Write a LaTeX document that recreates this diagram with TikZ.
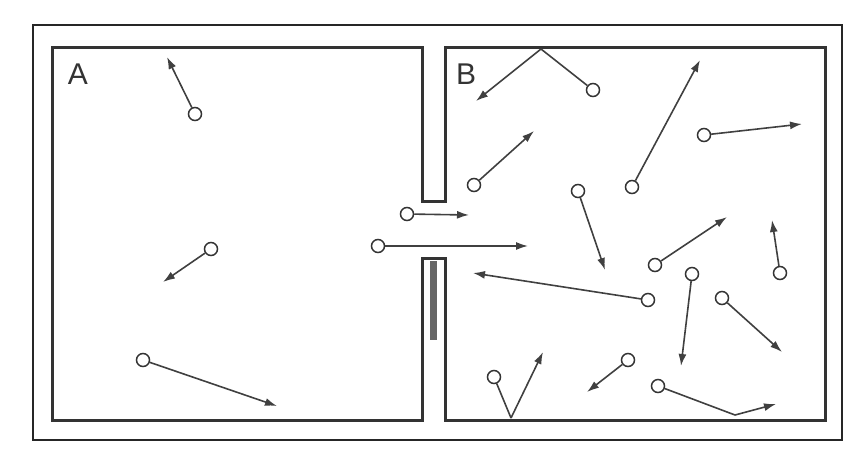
\documentclass[tikz,border=0pt]{standalone}
\usepackage{fontspec}
\setmainfont{Liberation Sans}
\usetikzlibrary{arrows.meta}
\begin{document}
\begin{tikzpicture}[x=1pt,y=-1pt,
  wall/.style={draw=black!80,line width=3pt,line join=miter},
  mol/.style={circle,draw=black!80,line width=1.5pt,fill=white,minimum size=13pt,inner sep=0pt},
  mv/.style={draw=black!75,line width=1.6pt,-{Latex[length=12pt,width=8pt]}},
  seg/.style={draw=black!75,line width=1.6pt},
  lab/.style={font=\fontsize{30}{30}\selectfont,text=black!80}]
\useasboundingbox (0,0) rectangle (859,475);
\draw[draw=black!85,line width=2.6pt] (33,25) rectangle (842,440);
\draw[wall] (52,47)--(422,47)--(422,201)--(445,201)--(445,47)--(825,47)--(825,420)--(445,420)--(445,258)--(422,258)--(422,420)--(52,420)--cycle;
\fill[black!60] (430,261) rectangle (437,340);
\node[lab] (la) at (78,74) {A};
\node[lab] (lb) at (466,74) {B};
% molecules
\foreach \n/\x/\y in {m1/195/114,m2/211/249,m3/143/360,m4/407/214,m5/378/246,
  m6/593/90,m7/474/185,m8/632/187,m9/704/135,m10/578/191,m11/655/265,m12/780/273,
  m13/648/300,m14/692/274,m15/722/298,m16/494/377,m17/628/360,m18/658/386}
  \node[mol] (\n) at (\x,\y) {};
\foreach \n/\x/\y in {t1/167/57,t2/163/282,t3/277/406,t4/469/215,t5/528/246,
  t6/476/101,t7/534/131,t8/700/60,t9/802/124,t10/605/270,t11/727/217,t12/772/220,
  t13/473/273,t14/681/366,t15/782/352,t16/543/352,t17/587/392,t18/776/404,
  b6/541/49,b16/511/418,b18/735/415}
  \coordinate (\n) at (\x,\y);
\foreach \i in {1,2,3,4,5,7,8,9,10,11,12,13,14,15,17}
  \draw[mv] (m\i) -- (t\i);
\draw[seg] (m6) -- (b6); \draw[mv] (b6) -- (t6);
\draw[seg] (m16) -- (b16); \draw[mv] (b16) -- (t16);
\draw[seg] (m18) -- (b18); \draw[mv] (b18) -- (t18);
\end{tikzpicture}
\end{document}
